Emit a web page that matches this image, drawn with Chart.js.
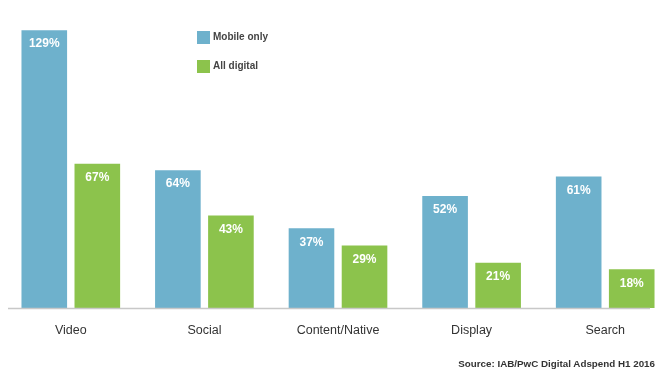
<!DOCTYPE html>
<html>
<head>
<meta charset="utf-8">
<script src="https://cdn.jsdelivr.net/npm/chart.js@4"></script>
<style>
  html, body { margin: 0; padding: 0; background: #fff; overflow: hidden; width: 659px; height: 372px; }
  #wrap { position: relative; width: 672px; height: 372px; }
  .legend { position: absolute; left: 197px; font: bold 10px "Liberation Sans", Arial, sans-serif; color: #444; }
  .legend span { display: inline-block; width: 13px; height: 13px; vertical-align: middle; margin-right: 3px; }
  #source { position: absolute; right: 4px; top: 358px; font: bold 9.8px "Liberation Sans", Arial, sans-serif; color: #333; }
</style>
</head>
<body>
<div id="wrap">
  <canvas id="chart"></canvas>
</div>
<div class="legend" style="top:31px"><span style="background:#6eb1cc"></span>Mobile only</div>
<div class="legend" style="top:60px"><span style="background:#8cc34c"></span>All digital</div>
<div id="source">Source: IAB/PwC Digital Adspend H1 2016</div>

<script>
// categories and growth values (percent)
const categories = ['Video', 'Social', 'Content/Native', 'Display', 'Search'];
const mobileOnly = [129, 64, 37, 52, 61];
const allDigital = [67, 43, 29, 21, 18];

const blue = '#6eb1cc';
const green = '#8cc34c';

// white % labels at top of each bar, plus the gray baseline
const barLabels = {
    id: 'barLabels',
    afterDatasetsDraw(chart) {
        const ctx = chart.ctx;
        ctx.save();
        ctx.font = 'bold 12px "Liberation Sans", Arial, sans-serif';
        ctx.fillStyle = '#ffffff';
        ctx.textAlign = 'center';
        ctx.textBaseline = 'middle';
        chart.data.datasets.forEach((ds, i) => {
            chart.getDatasetMeta(i).data.forEach((bar, j) => {
                ctx.fillText(ds.data[j] + '%', bar.x, bar.y + 14);
            });
        });
        // axis line
        const y = chart.scales.y.getPixelForValue(0) + 0.5;
        ctx.strokeStyle = '#c8c8c8';
        ctx.lineWidth = 1.5;
        ctx.beginPath();
        ctx.moveTo(8, y);
        ctx.lineTo(650, y);
        ctx.stroke();
        ctx.restore();
    }
};

new Chart(document.getElementById('chart').getContext('2d'), {
    type: 'bar',
    data: {
        labels: categories,
        datasets: [
            { label: 'Mobile only', data: mobileOnly, backgroundColor: blue },
            { label: 'All digital', data: allDigital, backgroundColor: green }
        ]
    },
    options: {
        responsive: true,
        maintainAspectRatio: false,
        animation: false,
        categoryPercentage: 0.794,
        barPercentage: 0.86,
        layout: { padding: { left: 4, right: 0, top: 0, bottom: 19 } },
        plugins: {
            legend: { display: false },
            tooltip: { enabled: false }
        },
        scales: {
            x: {
                grid: { display: false, drawTicks: false },
                border: { display: false },
                ticks: {
                    padding: 15,
                    color: '#333',
                    font: { family: '"Liberation Sans", Arial, sans-serif', size: 12.5 }
                }
            },
            y: {
                display: false,
                min: 0,
                max: 143
            }
        }
    },
    plugins: [barLabels]
});
</script>
</body>
</html>
